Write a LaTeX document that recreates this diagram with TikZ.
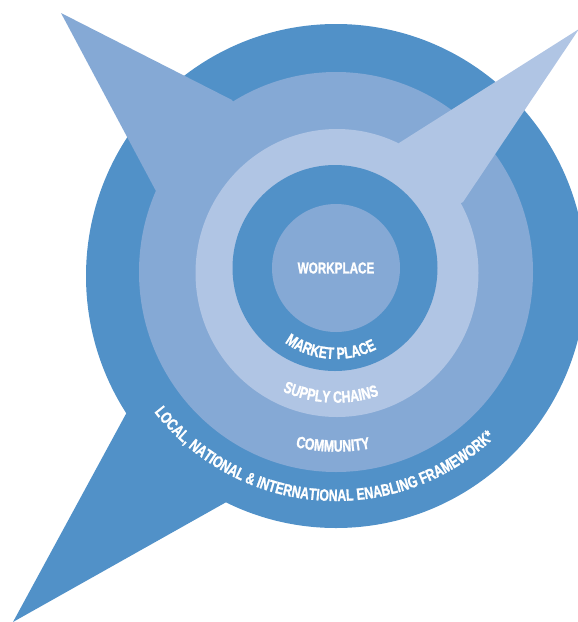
\documentclass[tikz,border=0pt]{standalone}
\usepackage{fontspec}
\usetikzlibrary{decorations.text}
\newfontfamily\ringfont[FakeStretch=0.74,BoldFeatures={FakeBold=1.2}]{Liberation Sans}
\newcommand\ringlabelfont{\ringfont\bfseries\fontsize{16.5}{18}\selectfont}
\definecolor{ringdark}{RGB}{81,145,200}
\definecolor{ringmid}{RGB}{133,169,213}
\definecolor{ringlight}{RGB}{176,197,228}

\begin{document}
\begin{tikzpicture}[x=1pt,y=1pt,line join=round]
	\tikzset{ring label/.style={decorate,decoration={text along path,text align=center,text color=white,text={|\ringlabelfont|#1}}}}
	\useasboundingbox (0,0) rectangle (578,-622);
	\coordinate (c) at (336,-271);
	\begin{scope}
		\clip (0,0) rectangle (578,-622);
		% outer ring with the lower spike
		\fill[ringdark] (336,-276) ellipse [x radius=250, y radius=252];
		\fill[ringdark] (13,-622) -- (127,-412) -- (c) -- (230,-500) -- cycle;
		% community ring with the left spike
		\fill[ringmid] (336,-272) ellipse [x radius=197, y radius=200];
		\fill[ringmid] (61,-13) -- (232,-100) -- (c) -- (157,-193) -- cycle;
		% supply chains ring with the right spike
		\fill[ringlight] (579,-29) -- (399,-143) -- (c) -- (463,-202) -- cycle;
		\fill[ringlight] (337,-273) ellipse [x radius=141.5, y radius=144];
		\fill[ringdark] (335,-268) ellipse [x radius=102.5, y radius=103];
		\fill[ringmid] (336,-268) circle [radius=64];
	\end{scope}
	\node[text=white,font=\ringfont\bfseries\fontsize{15.8}{18}\selectfont] (workplace) at (336,-268) {WORKPLACE};
	\path[ring label={MARKET PLACE}] (c) ++(196:88) arc[start angle=196,end angle=336,radius=88];
	\path[ring label={SUPPLY CHAINS}] (c) ++(197.6:131.7) arc[start angle=197.6,end angle=337.6,radius=131.7];
	\path[ring label={COMMUNITY}] (c) ++(219:180.7) arc[start angle=219,end angle=319,radius=180.7];
	\path[ring label={LOCAL, NATIONAL {\&} INTERNATIONAL ENABLING FRAMEWORK*}] (c) ++(190.7:230) arc[start angle=190.7,end angle=340.7,radius=230];
\end{tikzpicture}
\end{document}
